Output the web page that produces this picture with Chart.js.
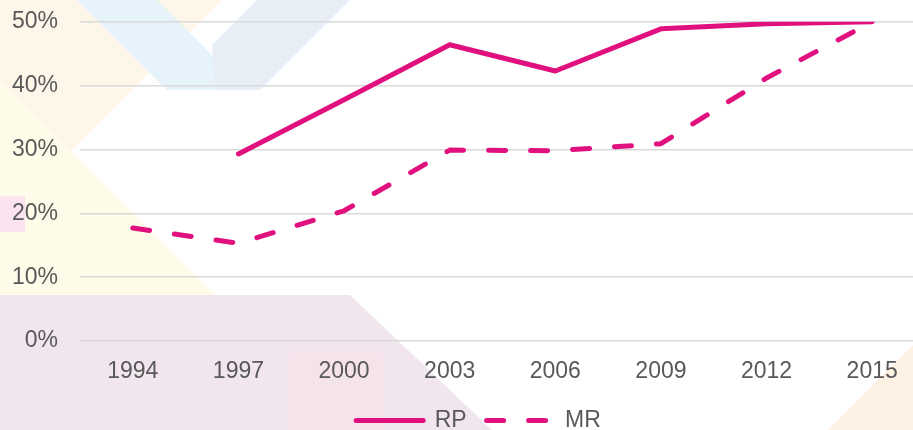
<!DOCTYPE html>
<html>
<head>
<meta charset="utf-8">
<script src="https://cdn.jsdelivr.net/npm/chart.js@4/dist/chart.umd.min.js"></script>
<style>
  html, body { margin: 0; padding: 0; width: 913px; height: 430px; overflow: hidden; background: #ffffff; }
  #wrap { position: relative; width: 925px; height: 442px; }
  #bg { position: absolute; left: 0; top: 0; }
  #c { position: absolute; left: 0; top: -14px; display: block; }
</style>
</head>
<body>
<div id="wrap">
  <svg id="bg" width="925" height="442" xmlns="http://www.w3.org/2000/svg">
    <polygon points="0,0 222,0 0,222" fill="#fdf6e9"/>
    <polygon points="0,80 215,295 0,295" fill="#fefbe9"/>
    <polygon points="77,0 157,0 247,90 167,90" fill="#e6f3fa"/>
    <polygon points="257,0 350,0 260,90 215,90 212,45" fill="#e8eef5"/>
    <polygon points="0,295 350,295 492,430 0,430" fill="#f1e6ed"/>
    <rect x="288" y="350" width="96" height="90" rx="8" fill="#f5e3ec"/>
    <rect x="0" y="196" width="25" height="36" fill="#fbe4ef"/>
    <polygon points="913,345 913,430 828,430" fill="#fdf1e4"/>
  </svg>
  <canvas id="c" width="925" height="456"></canvas>
</div>
<script>
const categories = ['1994', '1997', '2000', '2003', '2006', '2009', '2012', '2015'];
const rpValues = [null, 29.3, 37.8, 46.4, 42.3, 48.9, 49.7, 50.0];
const mrValues = [17.7, 15.3, 20.4, 29.9, 29.8, 30.9, 41.2, 50.0];
const yTicks = [0, 10, 20, 30, 40, 50];

const magenta = '#e0117f';
const textGrey = '#595959';
const fontFamily = '"Liberation Sans", Arial, sans-serif';
const fontSize = 23;

const legendShift = {
  id: 'legendShift',
  afterLayout(chart) {
    if (chart.legend) { chart.legend.left += 16; chart.legend.right += 16; }
  }
};

new Chart(document.getElementById('c'), {
  type: 'line',
  data: {
    labels: categories,
    datasets: [
      {
        label: 'RP',
        data: rpValues,
        borderColor: magenta,
        backgroundColor: magenta,
        borderWidth: 5,
        pointRadius: 0,
        tension: 0,
        borderCapStyle: 'round',
        borderJoinStyle: 'round',
        fill: false
      },
      {
        label: 'MR',
        data: mrValues,
        borderColor: magenta,
        backgroundColor: magenta,
        borderWidth: 5,
        borderDash: [17, 25],
        pointRadius: 0,
        tension: 0,
        borderCapStyle: 'round',
        borderJoinStyle: 'round',
        fill: false
      }
    ]
  },
  plugins: [legendShift],
  options: {
    responsive: false,
    devicePixelRatio: 1,
    animation: false,
    layout: { autoPadding: false, padding: { top: 22, right: 0, left: 0, bottom: 0 } },
    plugins: {
      tooltip: { enabled: false },
      legend: {
        display: true,
        position: 'bottom',
        labels: {
          usePointStyle: true,
          pointStyle: 'line',
          pointStyleWidth: 67,
          color: textGrey,
          padding: 20,
          font: { family: fontFamily, size: fontSize },
          generateLabels: (chart) => {
            const items = Chart.defaults.plugins.legend.labels.generateLabels(chart);
            items.forEach((it) => {
              const ds = chart.data.datasets[it.datasetIndex];
              it.lineDash = ds.borderDash || [];
              it.lineCap = 'round';
              it.lineWidth = 5;
              it.strokeStyle = ds.borderColor;
              it.fillStyle = ds.borderColor;
            });
            return items;
          }
        }
      }
    },
    scales: {
      x: {
        offset: true,
        afterFit: (s) => { s.height = 48; },
        grid: { display: false, drawTicks: false },
        border: { display: false },
        ticks: { color: textGrey, padding: 17, font: { family: fontFamily, size: fontSize }, maxRotation: 0 }
      },
      y: {
        min: 0,
        max: 50,
        afterFit: (s) => { s.width = 80; },
        afterBuildTicks: (s) => { s.ticks = yTicks.map(v => ({ value: v })); },
        grid: { color: '#d9d9d9', lineWidth: 1.5, drawTicks: false },
        border: { display: false },
        ticks: {
          color: textGrey,
          padding: 22,
          font: { family: fontFamily, size: fontSize },
          callback: (v) => v + '%'
        }
      }
    }
  }
});
</script>
</body>
</html>
